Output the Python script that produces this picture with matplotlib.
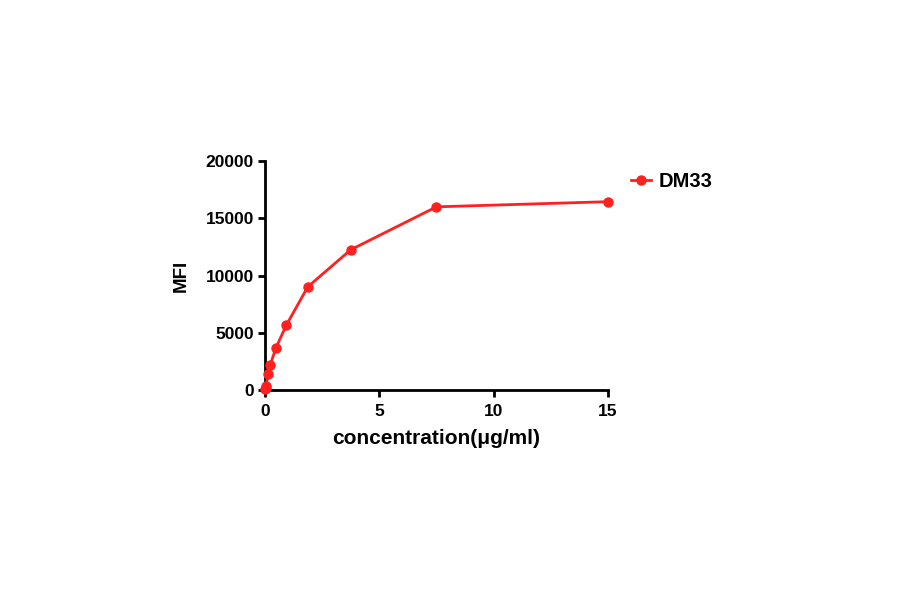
import matplotlib
matplotlib.use('Agg')
import matplotlib.pyplot as plt

conc = [15, 7.5, 3.75, 1.875, 0.9375, 0.46875, 0.234375, 0.1171875, 0.05859375, 0.029296875, 0.0146484375]
mfi = [16450, 16000, 12250, 9020, 5680, 3640, 2190, 1370, 350, 150, 60]
series_name = 'DM33'

plt.rcParams['font.family'] = ['Liberation Sans', 'DejaVu Sans']
plt.rcParams['font.weight'] = 'bold'

fig = plt.figure(figsize=(9, 5.94), dpi=100)
ax = fig.add_axes([0.2944, 0.3434, 0.3811, 0.3855])

ax.plot(conc, mfi, color='#ff2020', lw=2, marker='o', ms=6.5, label=series_name, clip_on=False, zorder=3)

ax.set_xlim(0, 15)
ax.set_ylim(0, 20000)
ax.set_xticks([0, 5, 10, 15])
ax.set_yticks([0, 5000, 10000, 15000, 20000])
ax.spines['top'].set_visible(False)
ax.spines['right'].set_visible(False)
for s in ['left', 'bottom']:
    ax.spines[s].set_linewidth(2)
ax.tick_params(width=2, length=5, labelsize=12.5)
ax.tick_params(axis='x', pad=5)
ax.tick_params(axis='y', pad=3)
for lab in ax.get_xticklabels() + ax.get_yticklabels():
    lab.set_fontweight('bold')

ax.set_xlabel('concentration(μg/ml)', fontsize=15, fontweight='bold', labelpad=7)
ax.set_ylabel('MFI', fontsize=13.5, fontweight='bold', labelpad=11)

leg = ax.legend(loc='upper left', bbox_to_anchor=(1.015, 1.03), frameon=False,
                fontsize=14.5, handlelength=1.0, handletextpad=0.35)
for t in leg.get_texts():
    t.set_fontweight('bold')

fig.savefig('out.png', dpi=100)
